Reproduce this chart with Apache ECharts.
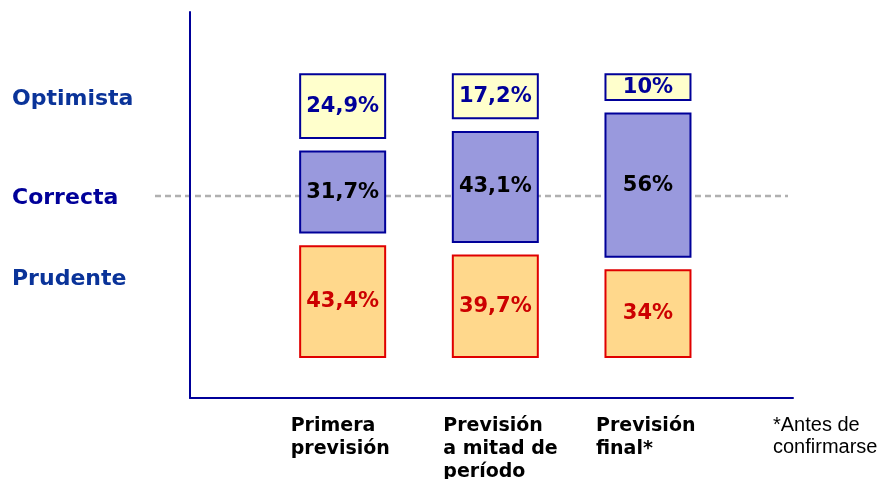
<!DOCTYPE html>
<html>
<head>
<meta charset="utf-8">
<script src="https://cdn.jsdelivr.net/npm/echarts@6/dist/echarts.min.js"></script>
<style>
  html, body { margin: 0; padding: 0; background: #fff; }
  #main { width: 879px; height: 479px; }
</style>
</head>
<body>
<div id="main"></div>
<script>
var categories = ['Primera\nprevisión', 'Previsión\na mitad de\nperíodo', 'Previsión\nfinal*'];
var prudente = [43.4, 39.7, 34];
var correcta = [31.7, 43.1, 56];
var optimista = [24.9, 17.2, 10];
var levelNames = ['Optimista', 'Correcta', 'Prudente'];
var footnote = '*Antes de\nconfirmarse';

var GAP = 5.3;     // hueco entre cajas, en unidades del eje
var BAR_W = 85;
var NAVY = '#000099';

function fmt(v) {
  return String(v).replace('.', ',') + '%';
}

// base de cada caja = suma de las anteriores + huecos
var prudBase = prudente.map(function () { return 0; });
var corrBase = prudente.map(function (v) { return v + GAP; });
var optBase = prudente.map(function (v, i) { return v + correcta[i] + 2 * GAP; });

function toData(values, bases) {
  return values.map(function (v, i) { return [i, v, bases[i]]; });
}

function makeRender(fill, stroke, textColor) {
  return function (params, api) {
    var i = api.value(0), v = api.value(1), b = api.value(2);
    var p0 = api.coord([i, b]);
    var p1 = api.coord([i, b + v]);
    return {
      type: 'rect',
      shape: { x: p0[0] - BAR_W / 2, y: p1[1], width: BAR_W, height: p0[1] - p1[1] },
      style: { fill: fill, stroke: stroke, lineWidth: 2 },
      textContent: {
        style: { text: fmt(v), fill: textColor, font: 'bold 21px "DejaVu Sans"' }
      },
      textConfig: { position: 'inside' }
    };
  };
}

var myChart = echarts.init(document.getElementById('main'));

var option = {
  backgroundColor: '#ffffff',
  animation: false,
  grid: { left: 190, right: 86, top: 12, bottom: 81, outerBoundsMode: 'none', containLabel: false },
  xAxis: {
    type: 'value',
    min: -1,
    max: 2.95,
    interval: 1,
    axisLine: { show: true, onZero: false, lineStyle: { color: NAVY, width: 2 } },
    axisTick: { show: false },
    splitLine: { show: false },
    axisLabel: {
      margin: 17,
      align: 'center',
      width: 104,
      showMaxLabel: false,
      formatter: function (v) {
        var name = categories[v];
        if (!name) return '';
        return name.split('\n').map(function (l) { return '{c|' + l + '}'; }).join('\n');
      },
      rich: {
        c: { align: 'left', color: '#000', fontFamily: 'DejaVu Sans', fontWeight: 'bold', fontSize: 19, lineHeight: 23 }
      }
    }
  },
  yAxis: {
    type: 'value',
    min: -16,
    max: 135,
    axisLine: { show: true, onZero: false, lineStyle: { color: NAVY, width: 2 } },
    axisTick: { show: false },
    axisLabel: { show: false },
    splitLine: { show: false }
  },
  graphic: [
    {
      type: 'line',
      shape: { x1: 155, y1: 196, x2: 788, y2: 196 },
      style: { stroke: '#b0b0b0', lineWidth: 2.5, lineDash: [6, 4] },
      z: 0
    },
    {
      type: 'text', left: 12, top: 88,
      style: { text: levelNames[0], fill: '#0a3399', font: 'bold 22px "DejaVu Sans"' }
    },
    {
      type: 'text', left: 12, top: 187,
      style: { text: levelNames[1], fill: NAVY, font: 'bold 22px "DejaVu Sans"' }
    },
    {
      type: 'text', left: 12, top: 268,
      style: { text: levelNames[2], fill: '#0a3399', font: 'bold 22px "DejaVu Sans"' }
    },
    {
      type: 'text', left: 773, top: 414,
      style: { text: footnote, fill: '#000', font: '20px "Liberation Sans"', lineHeight: 22 }
    }
  ],
  series: [
    {
      type: 'custom', name: 'Prudente',
      renderItem: makeRender('#ffd88c', '#e00000', '#cc0000'),
      encode: { x: 0, y: 1 },
      data: toData(prudente, prudBase)
    },
    {
      type: 'custom', name: 'Correcta',
      renderItem: makeRender('#9999dd', NAVY, '#000000'),
      encode: { x: 0, y: 1 },
      data: toData(correcta, corrBase)
    },
    {
      type: 'custom', name: 'Optimista',
      renderItem: makeRender('#ffffcc', NAVY, NAVY),
      encode: { x: 0, y: 1 },
      data: toData(optimista, optBase)
    }
  ]
};

myChart.setOption(option);
</script>
</body>
</html>
